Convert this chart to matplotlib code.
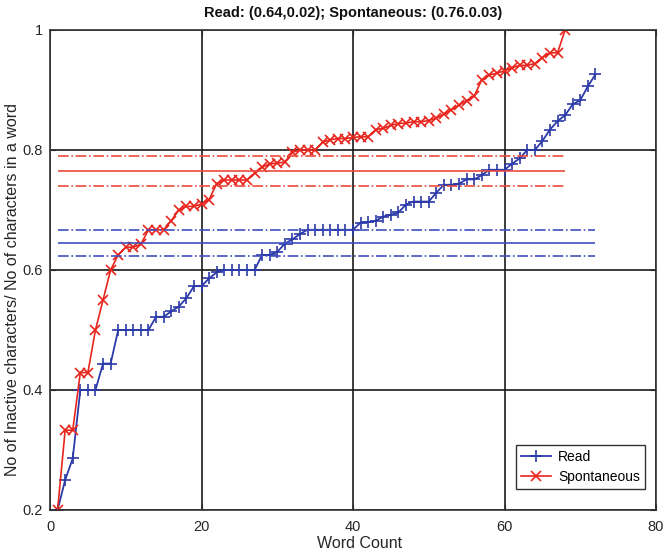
import matplotlib
matplotlib.use('Agg')
import matplotlib.pyplot as plt
import numpy as np

plt.rcParams['font.family'] = ['Liberation Sans', 'DejaVu Sans']

# sorted ratios per word
read = [0.200, 0.250, 0.286, 0.400, 0.400, 0.400, 0.444, 0.444, 0.500, 0.500,
        0.500, 0.500, 0.500, 0.522, 0.522, 0.531, 0.539, 0.553, 0.573, 0.573,
        0.586, 0.596, 0.600, 0.600, 0.600, 0.600, 0.600, 0.625, 0.625, 0.630,
        0.644, 0.651, 0.660, 0.667, 0.667, 0.667, 0.667, 0.667, 0.667, 0.667,
        0.679, 0.680, 0.682, 0.689, 0.692, 0.696, 0.709, 0.714, 0.714, 0.714,
        0.729, 0.742, 0.742, 0.744, 0.751, 0.751, 0.758, 0.767, 0.767, 0.767,
        0.777, 0.786, 0.800, 0.800, 0.815, 0.834, 0.848, 0.858, 0.876, 0.883,
        0.906, 0.926]
spont = [0.200, 0.333, 0.333, 0.429, 0.429, 0.500, 0.550, 0.600, 0.625, 0.638,
         0.638, 0.643, 0.667, 0.667, 0.667, 0.682, 0.700, 0.706, 0.706, 0.710,
         0.717, 0.744, 0.750, 0.750, 0.750, 0.750, 0.761, 0.771, 0.777, 0.778,
         0.780, 0.796, 0.800, 0.800, 0.800, 0.813, 0.817, 0.819, 0.819, 0.821,
         0.822, 0.822, 0.834, 0.836, 0.841, 0.844, 0.845, 0.847, 0.847, 0.849,
         0.853, 0.860, 0.867, 0.875, 0.882, 0.890, 0.917, 0.925, 0.928, 0.932,
         0.937, 0.941, 0.941, 0.944, 0.954, 0.962, 0.962, 1.000]

read_mean, read_std = 0.645, 0.022
spont_mean, spont_std = 0.765, 0.025

blue = '#2b3aa8'
red = '#e8251d'
blue_l = '#4050c0'
red_l = '#ec4a3c'
txt = '#262626'

fig = plt.figure(figsize=(6.65, 5.53), dpi=100)
ax = fig.add_axes([0.0752, 0.0778, 0.9113, 0.868])

xr = np.arange(1, len(read) + 1)
xs = np.arange(1, len(spont) + 1)

ax.plot(xr, read, '-+', color=blue, lw=1.3, ms=8.5, mew=1.2, label='Read')
ax.plot(xs, spont, '-x', color=red, lw=1.2, ms=7.5, mew=1.2, label='Spontaneous')

ax.hlines(read_mean, 1, len(read), color=blue_l, lw=1.2)
ax.hlines([read_mean - read_std, read_mean + read_std], 1, len(read),
          color=blue_l, lw=1.2, linestyles='-.')
ax.hlines(spont_mean, 1, len(spont), color=red_l, lw=1.2)
ax.hlines([spont_mean - spont_std, spont_mean + spont_std], 1, len(spont),
          color=red_l, lw=1.2, linestyles='-.')

ax.set_xlim(0, 80)
ax.set_ylim(0.2, 1.0)
ax.set_xticks([0, 20, 40, 60, 80])
ax.set_yticks([0.2, 0.4, 0.6, 0.8, 1.0])
ax.set_yticklabels(['0.2', '0.4', '0.6', '0.8', '1'])
ax.grid(True, color='#1a1a1a', lw=1.2)
ax.set_axisbelow(True)
ax.tick_params(direction='in', top=True, right=True, labelsize=10.5, length=4,
               colors=txt, labelcolor=txt)
ax.tick_params(axis='x', pad=7)
ax.tick_params(axis='y', pad=5)
for s in ax.spines.values():
    s.set_linewidth(1.2)
    s.set_color('#333333')

ax.set_title('Read: (0.64,0.02); Spontaneous: (0.76.0.03)', fontsize=10.5,
             fontweight='bold', pad=9, color='#111111')
ax.set_xlabel('Word Count', fontsize=11.5, color=txt)
ax.set_ylabel('No of Inactive characters/ No of characters in a word', fontsize=11.5,
              color=txt)
ax.xaxis.set_label_coords(0.51, -0.055)
ax.yaxis.set_label_coords(-0.05, 0.46)

leg = ax.legend(loc='lower right', bbox_to_anchor=(0.993, 0.03), fontsize=10,
                fancybox=False, framealpha=1, edgecolor='#333333', handlelength=2.2,
                borderpad=0.35, labelspacing=0.45, handletextpad=0.5)
leg.get_frame().set_linewidth(1.0)

fig.savefig('out.png', dpi=100)
